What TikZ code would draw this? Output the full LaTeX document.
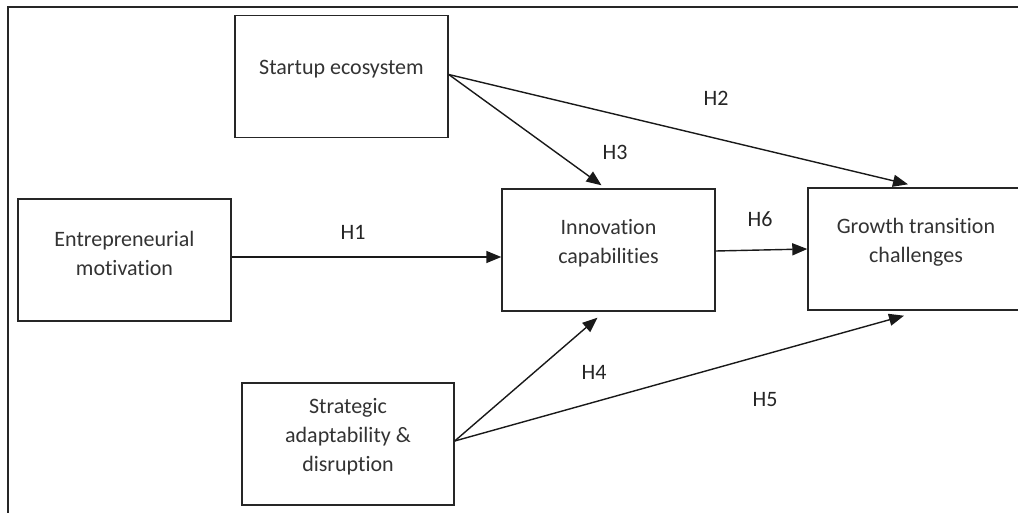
\documentclass[tikz,border=0pt]{standalone}
\usepackage{fontspec}
\setmainfont{Carlito}[Ligatures={NoCommon}]
\usetikzlibrary{arrows.meta}

\tikzset{
  varbox/.style={draw=black!85, line width=1.4pt, minimum width=213pt, minimum height=122pt, inner sep=0pt},
  vartext/.style={align=center, text=black!80, font=\fontsize{22}{29}\selectfont},
  hyp/.style={text=black!85, font=\fontsize{22}{29}\selectfont},
  link/.style={draw=black!90, line width=1.4pt, -{Triangle[length=15pt,width=12pt]}}
}

\begin{document}
\begin{tikzpicture}[x=1pt,y=-1pt]
\clip (0,0) rectangle (1018,513);
\fill[white] (0,0) rectangle (1018,513);
\draw[black!85, line width=1.4pt] (8,513) -- (8,7) -- (1018,7);

\node[varbox] (startup) at (341.5,76.5) {};
\node[varbox] (motive) at (124.5,260) {};
\node[varbox] (innov) at (608.5,250) {};
\node[varbox, minimum width=216pt] (growth) at (916,249) {};
\node[varbox, minimum width=212pt] (strategy) at (348,444) {};

\node[vartext] (startupT) at ([yshift=7pt]startup.center) {Startup ecosystem};
\node[vartext] (motiveT) at ([yshift=7pt]motive.center) {Entrepreneurial\\motivation};
\node[vartext] (innovT) at ([yshift=7pt]innov.center) {Innovation\\capabilities};
\node[vartext] (growthT) at ([yshift=7pt]growth.center) {Growth transition\\challenges};
\node[vartext] (strategyT) at ([yshift=7pt]strategy.center) {Strategic\\adaptability \&\\disruption};

\draw[link] ([yshift=3pt]motive.east) -- ([yshift=3pt]motive.east -| innov.west);
\draw[link] ([yshift=2pt]startup.east) -- ([shift={(-8pt,3pt)}]growth.north);
\draw[link] ([yshift=2pt]startup.east) -- ([shift={(-7pt,3pt)}]innov.north);
\draw[link] ([yshift=3pt]strategy.east) -- ([shift={(-11pt,-6pt)}]innov.south);
\draw[link] ([yshift=3pt]strategy.east) -- ([shift={(-12pt,-5pt)}]growth.south);
\draw[link] ([yshift=-1pt]innov.east) -- (growth.west);

\node[hyp] (h1) at (353,232) {H1};
\node[hyp] (h2) at (716,98) {H2};
\node[hyp] (h3) at (615,152) {H3};
\node[hyp] (h4) at (594,372) {H4};
\node[hyp] (h5) at (765,400) {H5};
\node[hyp] (h6) at (760,219) {H6};
\end{tikzpicture}
\end{document}
